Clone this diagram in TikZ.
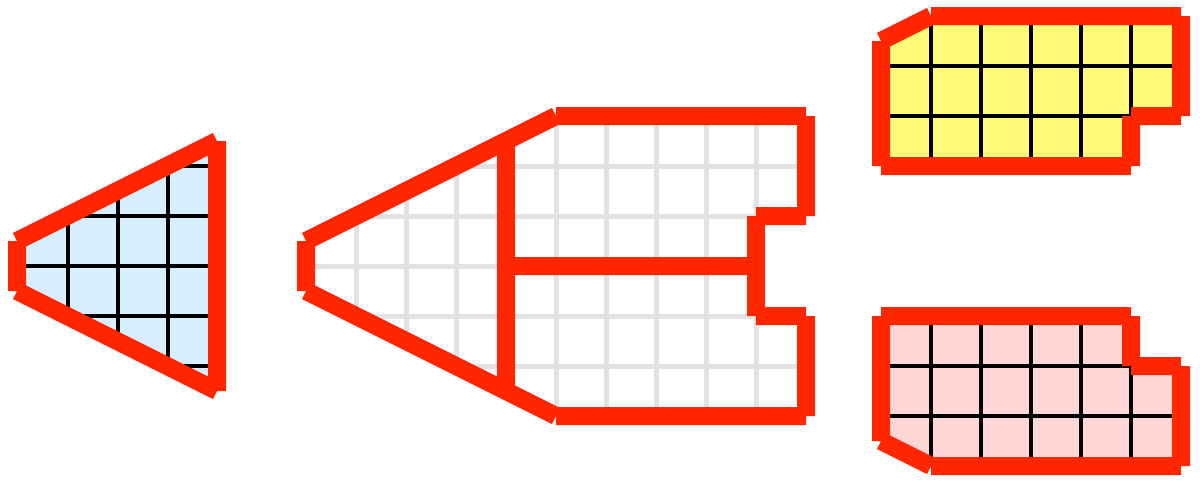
\documentclass[tikz,border=0pt]{standalone}
\usepackage{tikz}
\usetikzlibrary{calc}
\definecolor{edgered}{RGB}{255,38,0}
\definecolor{cellblue}{RGB}{214,240,255}
\definecolor{cellyellow}{RGB}{255,250,120}
\definecolor{cellpink}{RGB}{255,214,214}
\definecolor{cellgray}{RGB}{226,226,226}
\tikzset{
  bnd/.style={draw=edgered, line width=18pt, line cap=butt},
  mesh/.style={draw=black, line width=4pt},
  ghost/.style={draw=cellgray, line width=5pt},
}

\begin{document}
\begin{tikzpicture}[x=1pt, y=-1pt]
            \useasboundingbox (0,0) rectangle (1200,480);
            % left piece
            \coordinate (a1) at (17, 241);
            \coordinate (a2) at (217, 141);
            \coordinate (a3) at (217, 391);
            \coordinate (a4) at (17, 291);
            \fill[cellblue] (a1) -- (a2) -- (a3) -- (a4) -- cycle;
            \begin{scope}
              \clip (a1) -- (a2) -- (a3) -- (a4) -- cycle;
              \foreach \x in {68,118,168} \draw[mesh] (\x,120) -- (\x,410);
              \foreach \y in {166,216,266,316,366} \draw[mesh] (0,\y) -- (230,\y);
            \end{scope}
            % middle piece
            \coordinate (m1) at (306, 241);
            \coordinate (m2) at (506, 141);
            \coordinate (m3) at (556, 116);
            \coordinate (m4) at (806, 116);
            \coordinate (m5) at (806, 216);
            \coordinate (m6) at (756, 216);
            \coordinate (m7) at (756, 266);
            \coordinate (m8) at (756, 316);
            \coordinate (m9) at (806, 316);
            \coordinate (m10) at (806, 416);
            \coordinate (m11) at (556, 416);
            \coordinate (m12) at (506, 391);
            \coordinate (m13) at (306, 291);
            \coordinate (m14) at (506, 266);
            \begin{scope}
              \clip (m1) -- (m3) -- (m4) -- (m5) -- (m6) -- (m8) -- (m9) -- (m10) -- (m11) -- (m13) -- cycle;
              \foreach \x in {356,406,...,756} \draw[ghost] (\x,100) -- (\x,430);
              \foreach \y in {166,216,266,316,366} \draw[ghost] (290,\y) -- (820,\y);
            \end{scope}
            % upper right piece
            \coordinate (u1) at (881, 41);
            \coordinate (u2) at (931, 16);
            \coordinate (u3) at (1181, 16);
            \coordinate (u4) at (1181, 116);
            \coordinate (u5) at (1131, 116);
            \coordinate (u6) at (1131, 166);
            \coordinate (u7) at (881, 166);
            \fill[cellyellow] (u1) -- (u2) -- (u3) -- (u4) -- (u5) -- (u6) -- (u7) -- cycle;
            \begin{scope}
              \clip (u1) -- (u2) -- (u3) -- (u4) -- (u5) -- (u6) -- (u7) -- cycle;
              \foreach \x in {931,981,...,1131} \draw[mesh] (\x,0) -- (\x,180);
              \foreach \y in {66,116} \draw[mesh] (870,\y) -- (1190,\y);
            \end{scope}
            % lower right piece
            \coordinate (p1) at (881, 316);
            \coordinate (p2) at (1131, 316);
            \coordinate (p3) at (1131, 366);
            \coordinate (p4) at (1181, 366);
            \coordinate (p5) at (1181, 466);
            \coordinate (p6) at (931, 466);
            \coordinate (p7) at (881, 441);
            \fill[cellpink] (p1) -- (p2) -- (p3) -- (p4) -- (p5) -- (p6) -- (p7) -- cycle;
            \begin{scope}
              \clip (p1) -- (p2) -- (p3) -- (p4) -- (p5) -- (p6) -- (p7) -- cycle;
              \foreach \x in {931,981,...,1131} \draw[mesh] (\x,300) -- (\x,480);
              \foreach \y in {366,416} \draw[mesh] (870,\y) -- (1190,\y);
            \end{scope}
            % red boundaries
            \draw[bnd] (a4) -- (a1) (a1) -- (a2) (a2) -- (a3) (a3) -- (a4);
            \draw[bnd] (m13) -- (m1) (m1) -- (m2) (m2) -- (m3) (m3) -- (m4) (m4) -- (m5)
              (m5) -- (m6) (m6) -- (m7) (m7) -- (m8) (m8) -- (m9) (m9) -- (m10)
              (m10) -- (m11) (m11) -- (m12) (m12) -- (m13) (m2) -- (m12) (m14) -- (m7);
            \draw[bnd] (u7) -- (u1) (u1) -- (u2) (u2) -- (u3) (u3) -- (u4) (u4) -- (u5)
              (u5) -- (u6) (u6) -- (u7);
            \draw[bnd] (p1) -- (p2) (p2) -- (p3) (p3) -- (p4) (p4) -- (p5) (p5) -- (p6)
              (p6) -- (p7) (p7) -- (p1);
          \end{tikzpicture}
\end{document}
